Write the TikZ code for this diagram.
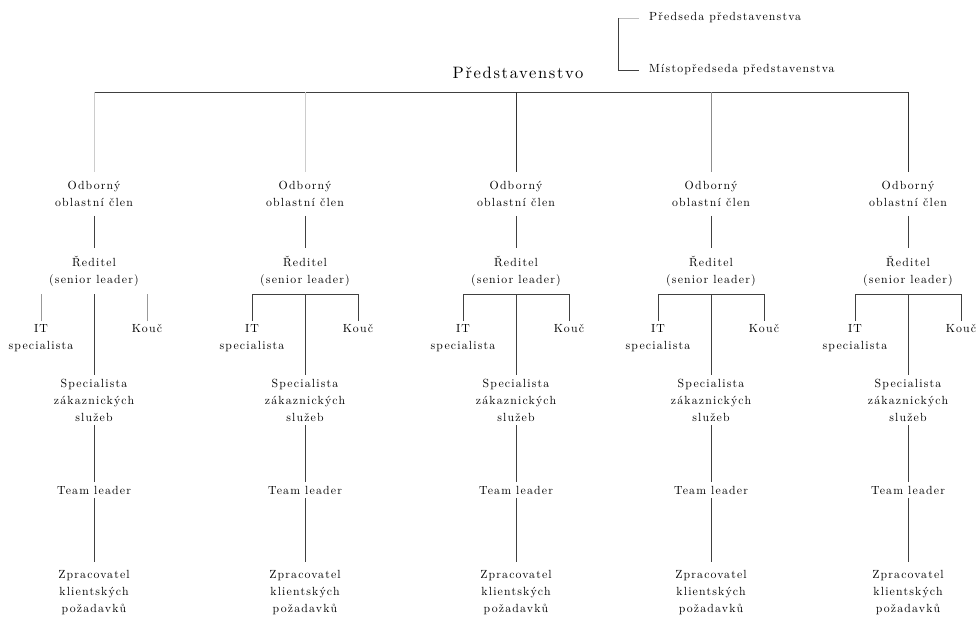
\documentclass[tikz,border=0pt]{standalone}
\usepackage{fontspec}
\setmainfont{lmroman10-regular.otf}[LetterSpace=10]
\usepackage{tikz}

\tikzset{
  unit/.style={align=center, font=\fontsize{11.8}{17}\selectfont, inner xsep=2pt, inner ysep=5pt},
  link/.style={draw=black!75, line width=.65pt},
}

\begin{document}
\begin{tikzpicture}[x=1pt,y=-1pt]
  \useasboundingbox (0,0) rectangle (976,616);
  \node[font=\fontsize{16.5}{20}\selectfont] (board) at (518,73) {Představenstvo};
  \node[unit, anchor=west, inner xsep=10pt, inner ysep=2pt] (chair) at (639,18) {Předseda představenstva};
  \node[unit, anchor=west, inner xsep=10pt, inner ysep=2pt] (vice) at (639,70) {Místopředseda představenstva};
  \coordinate (brace) at (618,44);
  \draw[link, draw=black!25] (chair.west) -- (chair.west -| brace);
  \draw[link] (chair.west -| brace) |- (vice.west);
  \coordinate (barL) at (94,92);
  \coordinate (barR) at (908,92);
  \draw[link] (barL) -- (barR);
  \foreach \c/\x/\tone in {1/94/black!20, 2/305/black!20, 3/516/black!80, 4/711/black!45, 5/908/black!80} {
    \node[unit, inner ysep=9pt] (odb\c) at (\x,194) {Odborný\\oblastní člen};
    \node[unit, inner ysep=8pt] (red\c) at (\x,271) {Ředitel\\(senior leader)};
    \node[unit, anchor=north, inner ysep=3pt] (it\c) at (\x-53,321) {IT\\specialista};
    \node[unit, anchor=north, inner ysep=3pt] (kouc\c) at (\x+53,321) {Kouč};
    \node[unit, inner ysep=4pt] (spec\c) at (\x,400) {Specialista\\zákaznických\\služeb};
    \node[unit, inner ysep=4pt] (team\c) at (\x,490) {Team leader};
    \node[unit, inner ysep=9pt] (zpr\c) at (\x,593) {Zpracovatel\\klientských\\požadavků};
    \draw[link, draw=\tone] (odb\c.north |- barL) -- (odb\c);
    \draw[link] (odb\c) -- (red\c);
    \draw[link] (red\c) -- (spec\c);
    \draw[link] (spec\c) -- (team\c);
    \draw[link] (team\c) -- (zpr\c);
  }
  % first column has no cross bar
  \draw[link, draw=black!40] (it1) -- (it1 |- red1.south);
  \draw[link, draw=black!40] (kouc1) -- (kouc1 |- red1.south);
  \foreach \c in {2,...,5}
    \draw[link] (it\c) |- (red\c.south) -| (kouc\c);
\end{tikzpicture}
\end{document}
